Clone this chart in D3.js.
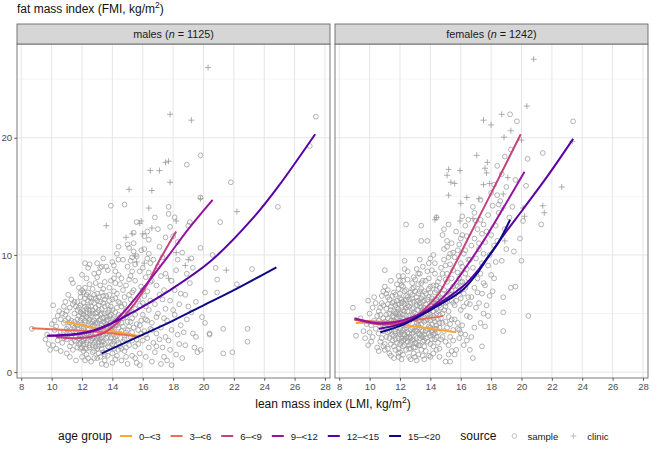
<!DOCTYPE html>
<html>
<head>
<meta charset="utf-8">
<script src="https://cdn.jsdelivr.net/npm/d3@7"></script>
<style>
body { margin: 0; background: #fff; }
text { font-family: "Liberation Sans", Arial, sans-serif; }
</style>
</head>
<body>
<svg width="652" height="449"></svg>
<script>
// age groups + colours (plasma, reversed)
const ageGroups = ["0–<3", "3–<6", "6–<9", "9–<12", "12–<15", "15–<20"];
const xTicks = [8, 10, 12, 14, 16, 18, 20, 22, 24, 26, 28];
const yTicks = [0, 10, 20];
const yMinor = [5, 15, 25];

// ---- males: sample (circles) ----
const malesSample = [
  [8.7,3.7],[9.7,3.2],[9.8,2.4],[10.1,5.7],[10.0,4.1],[10.3,2.0],[10.2,3.6],[10.4,4.8],[9.9,1.9],[10.4,2.7],[10.2,4.4],[10.5,3.1],[10.5,5.2],[10.3,3.9],[9.6,2.8],[10.1,2.3],
  [10.6,1.8],[10.7,2.5],[10.6,3.4],[10.8,4.2],[10.7,5.0],[10.9,6.0],[10.8,2.9],[11.0,3.7],[11.0,1.6],[11.1,4.6],[11.2,5.5],[11.3,7.9],[11.4,7.6],[11.2,2.2],[11.3,3.0],[11.4,4.0],[11.1,6.6],[11.5,5.0],[11.5,2.7],[11.4,3.5],[10.9,4.9],[11.3,6.2],[11.0,2.8],[11.2,3.3],[11.5,6.0],[10.8,5.6],[11.4,1.9],[11.1,3.9],[11.3,4.4],[11.5,4.3],[10.6,4.5],[11.0,5.2],[11.2,1.3],[10.9,3.0],[11.4,5.8],
  [11.6,1.0],[11.7,2.1],[11.8,3.2],[11.6,4.1],[11.7,5.3],[11.9,6.4],[11.8,7.2],[12.0,2.6],[12.1,3.7],[12.0,4.6],[12.2,5.6],[12.1,6.8],[12.3,1.5],[12.2,2.9],[12.4,4.0],[12.3,5.1],[12.4,6.1],[12.5,7.5],[12.0,8.3],[12.4,8.9],[12.2,9.3],[11.6,3.5],[11.8,2.4],[11.9,4.4],[12.0,5.0],[12.3,3.3],[12.5,2.3],[12.1,1.8],[12.4,2.7],[11.7,6.0],[11.9,3.0],[12.2,4.2],[12.5,5.3],[12.3,6.6],[11.8,4.8],[12.0,3.9],[12.1,2.4],[12.4,3.6],[11.6,2.6],[12.2,7.2],[12.5,4.5],[11.9,5.7],[12.3,4.7],[12.0,1.3],[12.5,3.0],[11.7,4.5],[12.1,5.9],[12.4,1.2],[11.8,5.5],[12.2,3.1],[12.3,2.0],[11.9,2.0],[12.5,6.4],[12.0,7.0],[12.1,4.9],[12.4,5.6],[11.7,3.7],[12.3,8.0],[12.5,9.2],[12.2,2.0],
  [12.6,0.9],[12.7,1.7],[12.8,2.5],[12.6,3.4],[12.9,4.2],[12.7,5.0],[12.8,5.9],[13.0,6.7],[12.9,7.6],[13.1,8.5],[13.0,9.3],[13.2,1.3],[13.1,2.2],[13.3,3.0],[13.2,3.8],[13.4,4.6],[13.3,5.4],[13.5,6.2],[13.4,7.1],[13.2,8.9],[13.4,9.7],[13.5,1.0],[13.3,0.7],[12.7,2.9],[12.9,3.3],[13.0,2.0],[13.1,4.4],[13.0,5.1],[12.6,6.3],[12.8,4.0],[13.2,6.0],[13.4,2.6],[13.5,3.5],[13.3,4.0],[12.9,5.5],[13.1,3.1],[13.5,5.0],[12.7,7.1],[13.0,3.6],[13.2,2.8],[13.4,1.7],[12.8,1.2],[13.3,6.8],[12.6,4.8],[13.1,5.7],[13.5,7.7],[13.0,8.1],[12.9,2.7],[13.2,4.9],[13.4,3.2],[12.8,3.6],[13.1,1.6],[13.3,2.3],[12.7,4.3],[13.0,4.7],[13.5,4.2],[12.9,6.3],[13.2,7.4],[12.6,5.6],[13.4,5.9],[13.1,6.4],[12.8,8.4],[13.3,9.0],[13.0,1.2],[12.7,3.9],
  [13.6,0.6],[13.7,1.4],[13.8,2.1],[13.6,2.9],[13.9,3.7],[13.7,4.5],[14.0,5.3],[13.8,6.1],[14.1,6.9],[13.9,7.8],[14.2,8.6],[14.0,9.4],[14.3,10.1],[13.9,14.2],[14.2,1.1],[14.4,1.9],[14.3,2.7],[14.1,3.5],[14.4,4.3],[14.2,5.1],[14.5,5.9],[14.3,6.7],[14.5,7.5],[14.4,8.3],[14.1,9.1],[13.6,3.3],[13.8,4.0],[13.7,5.7],[14.0,2.4],[14.2,3.0],[13.9,4.9],[14.4,3.8],[14.1,4.6],[13.6,6.5],[14.3,5.5],[14.0,6.2],[13.8,7.2],[14.5,2.2],[14.2,7.6],[14.4,9.6],[13.7,8.7],[14.0,3.9],[13.9,2.6],[14.3,4.0],[13.6,4.4],[14.1,2.0],[14.5,3.3],[13.8,5.3],[14.2,6.3],[14.4,6.0],[13.7,3.0],[14.0,1.6],[14.3,1.4],[14.5,4.7],[13.9,5.6],[14.1,8.0],[14.4,10.7],[13.6,9.0],[14.2,4.4],[14.0,0.8],
  [14.6,1.0],[14.8,1.8],[14.7,2.6],[14.9,3.4],[14.6,4.2],[15.0,5.0],[14.8,5.8],[15.1,6.6],[14.9,7.4],[15.2,8.2],[15.0,9.0],[15.3,9.8],[15.1,10.6],[15.0,10.9],[14.8,14.3],[15.4,11.9],[15.3,1.4],[15.5,2.2],[15.2,3.0],[15.4,3.8],[15.3,4.6],[15.5,5.4],[15.2,6.2],[15.4,7.0],[15.5,7.8],[15.3,8.6],[15.4,10.3],[14.7,3.9],[14.9,4.7],[15.1,2.3],[14.6,5.6],[15.0,3.6],[14.8,6.4],[15.2,4.3],[15.4,5.9],[14.7,7.0],[15.1,7.9],[15.5,9.2],[14.9,2.1],[15.3,2.7],[15.0,4.3],[14.6,8.0],[15.2,9.5],[15.5,1.2],[14.8,3.1],[15.1,5.3],[15.3,6.8],[14.7,9.6],[15.0,0.7],[15.4,11.0],
  [15.6,0.8],[15.8,1.6],[15.7,2.4],[15.9,3.3],[15.6,4.1],[16.0,4.9],[15.8,5.7],[16.1,6.5],[15.9,7.3],[16.2,8.1],[16.0,8.9],[16.3,9.7],[16.1,10.5],[16.4,11.3],[15.6,12.8],[16.2,1.3],[16.4,2.1],[16.3,2.9],[16.5,3.7],[16.2,4.5],[16.4,5.3],[16.5,6.1],[16.3,6.9],[16.5,7.7],[16.4,8.5],[15.7,6.2],[15.9,4.4],[16.0,2.7],[15.8,8.6],[16.1,3.5],[15.6,9.9],[16.3,12.0],[15.9,10.4],[16.2,5.6],[16.0,7.0],[15.7,3.6],[16.5,9.3],[15.8,0.6],[16.4,10.1],[16.1,11.6],
  [16.6,0.9],[16.8,1.7],[16.7,2.5],[16.9,3.3],[16.6,4.2],[17.0,5.0],[16.8,5.8],[17.1,6.6],[16.9,7.4],[17.2,8.2],[17.0,9.0],[17.3,9.8],[16.8,13.2],[17.1,10.7],[17.4,1.3],[17.3,2.1],[17.5,3.0],[17.2,3.8],[17.4,4.6],[17.5,5.4],[17.3,6.2],[17.4,7.0],[17.5,11.5],[16.7,9.6],[17.0,12.2],[16.9,4.7],[17.2,0.7],[17.5,8.4],[16.6,7.8],[17.1,2.8],
  [17.6,1.0],[17.8,1.9],[17.7,2.7],[17.9,3.6],[17.6,4.4],[18.0,5.3],[17.8,6.1],[18.1,7.0],[17.9,7.8],[18.2,8.7],[18.0,11.6],[18.3,11.1],[17.8,12.4],[18.2,1.5],[18.4,2.4],[18.3,3.2],[18.5,4.0],[18.1,4.9],[18.4,5.8],[18.5,6.7],[18.3,9.6],[17.9,0.6],[17.7,14.1],[18.1,13.2],[17.7,13.5],
  [18.6,1.2],[18.8,2.3],[18.7,3.4],[18.9,4.5],[19.0,5.6],[18.8,6.6],[19.1,7.6],[18.9,8.4],[19.2,9.7],[19.0,12.5],[19.1,12.8],[19.3,8.9],[19.4,2.1],[19.3,3.3],[19.5,6.0],[19.2,5.1],[18.6,10.2],[18.9,17.7],
  [19.6,1.7],[19.8,1.9],[19.9,4.7],[20.1,4.2],[19.8,14.9],[19.8,18.5],[20.4,3.2],[20.1,6.8],[20.9,6.8],[20.8,8.9],[20.9,7.9],[20.6,10.0],[19.8,10.6],[21.1,12.8],[19.5,3.0],
  [21.3,1.6],[21.9,1.7],[22.9,2.6],[21.3,3.7],[22.9,3.7],[22.2,7.5],[23.2,8.8],[21.8,16.2],[24.9,14.1],[27.0,19.3],[27.4,21.8],[20.4,3.3],
  // dense core
  [11.8,2.9],[12.0,3.2],[12.2,3.5],[12.4,3.3],[12.6,3.1],[12.8,3.0],[13.0,2.9],[13.2,3.4],[13.4,3.7],[12.1,2.7],[12.3,2.5],[12.5,2.1],[12.7,2.3],[12.9,2.2],[13.1,2.6],[13.3,2.0],[13.5,2.4],[13.7,2.2],[13.9,2.9],[14.1,2.6],[14.3,3.1],[14.0,3.5],[13.8,3.4],[13.6,3.9],[12.0,4.1],[12.2,4.4],[12.4,4.6],[12.6,4.1],[12.8,4.4],[13.0,4.2],[13.2,4.5],[13.4,4.3],[13.6,4.7],[13.8,4.8],[14.0,4.5],[14.2,4.0],[12.1,5.2],[12.3,5.4],[12.5,5.0],[12.7,5.3],[12.9,5.0],[13.1,5.3],[13.3,5.0],[13.5,5.6],[13.7,5.1],[11.9,5.1],[11.7,4.0],[11.6,3.0],[11.9,2.5],[12.0,2.1],[12.6,2.7],[13.3,2.6],[13.9,4.2],[14.4,4.9],[14.6,3.5],[14.8,2.8],[14.7,4.6],[14.9,5.3],[15.1,3.9],[15.3,3.4],[12.2,6.3],[12.6,6.0],[13.0,6.1],[13.4,6.5],[13.8,6.6],[12.4,6.8],[12.8,6.6],[11.9,6.8],[11.5,3.8],[11.2,4.2],[11.0,3.3],[11.3,2.5],[10.8,3.4],[10.9,4.4],[11.6,5.6],[14.1,3.2],[14.4,2.5],[14.6,2.0],[13.5,1.5],[12.8,1.8],[12.2,1.0],[14.9,1.3],[15.6,2.8],[15.8,4.0],[16.2,3.2],[15.5,4.9],[16.0,5.9],[16.6,3.6],[16.9,2.2],[16.3,4.4]
];
// ---- males: clinic (crosses) ----
const malesClinic = [
  [20.3,26.0],[17.8,22.0],[19.2,21.5],[16.5,17.2],[17.1,17.2],[17.5,17.9],[17.7,18.0],[17.8,16.2],[15.1,15.6],[16.6,15.5],
  [16.4,14.0],[19.8,14.8],[13.6,12.5],[15.8,12.7],[15.9,12.9],[16.6,12.3],[14.9,11.5],[15.3,11.8],[16.0,11.8],[18.2,12.9],
  [22.2,13.7],[15.5,9.9],[15.6,9.4],[16.1,9.3],[19.0,9.6],[18.8,9.1],[21.5,8.7],[17.7,8.0],[18.2,10.2]
];

// ---- females: sample (circles) ----
const femalesSample = [
  [8.9,5.5],[9.1,3.1],[9.6,3.5],[9.9,2.3],[10.2,3.0],[9.4,4.6],[9.8,4.1],[10.0,5.0],[10.3,4.4],[10.1,2.6],[10.4,3.7],[10.5,2.1],[10.2,5.5],[9.7,2.9],[10.4,5.9],[10.0,3.4],[10.3,6.4],[10.5,4.8],[9.9,6.1],[10.1,4.0],
  [10.6,1.8],[10.7,2.6],[10.6,3.3],[10.8,4.1],[10.7,4.9],[10.9,5.7],[10.8,6.5],[11.0,7.3],[11.0,8.7],[10.9,2.2],[11.1,3.0],[11.0,3.8],[11.2,4.6],[11.1,5.4],[11.3,6.2],[11.2,7.0],[11.4,7.8],[11.3,1.6],[11.4,2.4],[11.5,3.2],[11.3,4.0],[11.5,4.8],[11.4,5.6],[11.5,6.5],[10.6,5.2],[10.8,2.9],[11.0,4.3],[11.2,2.0],[11.4,3.6],[10.9,3.5],[11.1,6.7],[11.3,5.0],[10.7,3.9],[11.5,2.7],[11.2,3.4],[10.8,5.9],[11.0,2.4],[11.4,4.4],[11.1,4.9],[10.6,4.4],[11.3,2.9],[11.5,5.9],[10.9,6.9],[11.2,5.8],[11.0,1.9],
  [11.6,1.2],[11.7,1.9],[11.9,1.3],[11.8,2.5],[11.6,3.1],[12.0,3.7],[11.7,4.3],[11.9,4.9],[12.1,5.5],[11.8,6.1],[12.0,6.7],[12.2,7.3],[12.1,7.4],[11.9,8.2],[12.3,8.8],[12.4,12.6],[12.2,2.2],[12.3,2.8],[12.1,3.4],[12.4,4.0],[12.2,4.6],[12.5,5.2],[12.3,5.8],[12.5,6.4],[12.4,7.0],[12.5,7.9],[12.3,9.5],[11.6,5.2],[11.8,3.8],[12.0,2.4],[12.2,1.5],[12.4,1.9],[11.7,2.8],[11.9,3.4],[12.1,4.1],[12.3,4.3],[12.5,3.4],[11.6,4.7],[11.8,5.5],[12.0,5.0],[12.2,6.0],[12.4,5.5],[11.7,6.6],[11.9,7.1],[12.1,6.2],[12.3,6.9],[12.5,2.6],[11.6,2.2],[12.0,1.7],[12.4,3.0],[11.8,4.6],[12.2,3.2],[12.0,4.4],[11.7,3.5],[12.5,4.5],[12.1,2.9],[11.9,5.8],[12.3,3.7],[12.2,5.3],[11.6,6.0],[12.4,6.2],[12.0,7.8],[11.8,7.5],[12.5,8.6],[12.2,8.2],[11.9,2.0],[12.3,2.3],[12.1,1.1],[12.4,4.8],[11.7,5.0],
  [12.6,1.3],[12.7,2.0],[12.9,1.6],[12.8,2.7],[12.6,3.3],[13.0,3.9],[12.7,4.5],[12.9,5.1],[13.1,5.7],[12.8,6.3],[13.0,6.9],[13.2,7.5],[12.9,8.1],[13.1,8.8],[13.3,9.6],[13.4,11.2],[13.4,12.5],[13.2,2.3],[13.3,2.9],[13.1,3.5],[13.4,4.1],[13.2,4.7],[13.5,5.3],[13.3,5.9],[13.5,6.5],[13.4,7.1],[13.5,7.8],[13.3,8.4],[12.6,5.6],[12.8,3.8],[13.0,2.5],[13.2,1.5],[13.4,1.9],[12.7,2.9],[12.9,3.4],[13.1,4.2],[13.3,4.4],[13.5,3.5],[12.6,4.8],[12.8,5.4],[13.0,5.0],[13.2,6.1],[13.4,5.5],[12.7,6.8],[12.9,7.2],[13.1,6.4],[13.3,6.9],[13.5,2.6],[12.6,2.3],[13.0,1.3],[13.4,3.1],[12.8,4.6],[13.2,3.3],[13.0,4.5],[12.7,3.6],[13.5,4.6],[13.1,2.9],[12.9,6.0],[13.3,3.8],[13.2,5.3],[12.6,6.2],[13.4,6.3],[13.0,7.9],[12.8,7.6],[13.5,9.0],[13.2,8.4],[12.9,2.1],[13.3,2.3],[13.1,1.0],[13.4,4.8],
  [13.6,1.1],[13.7,1.8],[13.9,1.4],[13.8,2.6],[13.6,3.2],[14.0,3.8],[13.7,4.4],[13.9,5.0],[14.1,5.6],[13.8,6.2],[14.0,6.8],[14.2,7.4],[13.9,8.0],[14.1,8.7],[14.3,9.3],[14.2,10.0],[13.8,11.2],[14.4,13.2],[14.2,2.2],[14.3,2.8],[14.1,3.4],[14.4,4.0],[14.2,4.6],[14.5,5.2],[14.3,5.8],[14.5,6.4],[14.4,7.0],[14.5,7.7],[14.3,8.4],[13.6,5.5],[13.8,3.7],[14.0,2.4],[14.2,1.6],[14.4,1.9],[13.7,2.9],[13.9,3.3],[14.1,4.1],[14.3,4.3],[14.5,3.4],[13.6,4.7],[13.8,5.3],[14.0,4.9],[14.2,6.0],[14.4,5.4],[13.7,6.7],[13.9,7.1],[14.1,6.3],[14.3,6.8],[14.5,2.5],[13.6,2.2],[14.0,1.3],[14.4,3.0],[13.8,4.5],[14.2,3.2],[14.0,4.4],[13.7,7.8],[14.5,4.5],[14.1,2.8],[13.9,9.3],[14.3,3.7],[14.2,5.2],[13.6,6.1],[14.4,6.2],[14.0,9.7],[14.6,1.3],
  [14.6,2.0],[14.7,2.8],[14.9,3.5],[14.8,4.2],[14.6,4.9],[15.0,5.6],[14.7,6.3],[14.9,7.0],[15.1,7.7],[14.8,8.4],[15.0,9.1],[15.2,9.8],[14.9,10.5],[15.1,11.2],[15.0,0.9],[15.3,0.9],[15.2,2.3],[15.3,3.0],[15.1,3.8],[15.4,4.5],[15.2,5.2],[15.5,5.9],[15.3,6.6],[15.5,7.3],[15.4,8.0],[15.5,8.7],[15.3,10.1],[14.6,5.7],[14.8,3.0],[15.0,2.6],[15.2,1.5],[15.4,1.8],[14.7,4.6],[14.9,5.3],[15.1,6.0],[15.3,4.1],[15.5,3.6],[14.6,7.2],[14.8,6.7],[15.0,4.3],[15.2,6.9],[15.4,6.1],[14.7,8.9],[14.9,9.6],[15.1,8.4],[15.3,9.2],[15.5,2.7],[14.6,3.8],[15.0,7.9],[15.4,11.0],[14.8,11.7],[15.2,12.6],[14.9,12.2],[15.1,10.7],[15.5,10.2],
  [15.6,1.5],[15.7,1.9],[15.9,2.9],[15.8,3.7],[15.6,4.5],[16.0,5.3],[15.7,6.1],[15.9,6.9],[16.1,7.7],[15.8,8.5],[16.0,9.3],[16.2,10.1],[15.9,10.9],[16.1,11.7],[16.3,12.5],[16.2,2.3],[16.3,3.2],[16.1,4.0],[16.4,4.8],[16.2,5.6],[16.5,6.4],[16.3,7.2],[16.5,8.0],[16.4,8.8],[16.5,9.6],[16.3,10.4],[16.4,11.6],[15.6,5.7],[15.8,4.2],[16.0,3.3],[16.2,6.7],[16.4,5.9],[15.7,7.4],[15.9,8.0],[16.1,9.0],[16.3,8.4],[15.6,9.8],[15.8,10.4],[16.0,11.4],[16.5,13.0],[15.7,12.0],[16.1,13.3],[15.9,3.6],[16.4,2.7],[16.0,6.3],
  [16.6,1.9],[16.8,1.2],[16.7,3.0],[16.9,3.8],[16.6,4.7],[17.0,5.5],[16.7,6.4],[16.9,7.2],[17.1,8.0],[16.8,8.9],[17.0,9.7],[17.2,10.5],[16.9,11.4],[17.1,12.2],[17.3,13.0],[16.8,14.1],[17.4,2.2],[17.3,4.2],[17.5,5.0],[17.2,5.9],[17.4,6.7],[17.5,7.6],[17.3,8.4],[17.4,9.3],[17.5,10.1],[17.2,11.0],[17.4,11.8],[16.6,9.6],[16.7,10.8],[17.0,12.9],[17.3,14.7],[16.9,13.6],[17.1,6.8],[16.6,5.8],[17.5,12.6],
  [17.6,3.9],[17.8,4.8],[17.7,5.7],[17.9,6.5],[17.6,7.4],[18.0,8.3],[17.8,9.1],[18.1,6.9],[17.9,10.0],[18.2,10.8],[18.0,11.7],[18.3,12.5],[17.8,13.4],[18.1,14.2],[18.4,15.1],[18.2,16.0],[18.5,13.6],[18.3,9.4],[18.4,11.2],[17.7,12.0],[18.0,15.3],[18.4,17.6],[18.2,8.0],[17.6,11.1],[18.5,14.3],
  [18.8,3.5],[18.8,5.1],[18.8,6.4],[19.3,7.2],[19.6,7.3],[18.7,9.5],[19.0,10.5],[18.9,12.2],[19.2,13.2],[18.6,14.6],[19.0,15.8],[19.4,14.1],[18.7,16.9],[19.3,19.0],[19.25,22.0],[19.7,21.4],[20.45,4.8],[19.9,11.4],[20.0,9.5],[20.1,12.9],[20.3,15.9],[19.6,16.4],[20.4,18.2],[18.9,18.4],[19.5,10.3],
  [21.3,12.6],[21.4,18.7],[23.4,21.4],
  // dense core
  [11.6,3.9],[11.8,4.2],[12.0,3.2],[12.2,3.6],[12.4,3.8],[12.6,3.0],[12.8,3.3],[13.0,3.5],[13.2,4.0],[13.4,3.6],[11.7,3.3],[11.9,2.9],[12.1,2.6],[12.3,3.2],[12.5,2.9],[12.7,2.5],[12.9,2.8],[13.1,2.4],[13.3,3.2],[13.5,3.0],[13.7,3.5],[13.9,3.9],[14.1,3.6],[14.3,3.3],[11.6,4.4],[11.8,5.1],[12.0,4.7],[12.2,4.9],[12.4,4.4],[12.6,4.3],[12.8,4.9],[13.0,4.7],[13.2,4.4],[13.4,5.1],[13.6,4.3],[13.8,4.9],[14.0,5.4],[14.2,4.8],[14.4,5.0],[11.7,5.7],[11.9,5.4],[12.1,5.9],[12.3,5.2],[12.5,5.7],[12.7,5.9],[12.9,5.5],[13.1,6.0],[13.3,5.6],[13.5,6.0],[13.7,5.8],[13.9,6.4],[14.1,6.0],[14.3,6.2],[11.3,3.5],[11.1,4.1],[10.9,4.6],[11.4,5.3],[11.2,6.4],[10.7,5.5],[11.5,3.9],[12.2,2.7],[12.6,2.0],[13.0,2.1],[13.6,2.7],[14.0,3.1],[14.4,3.7],[14.6,4.2],[14.8,5.0],[15.0,5.9],[15.2,4.7],[14.7,5.5],[14.9,6.2],[15.1,6.5],[15.4,7.0],[15.6,6.6],[15.8,7.3],[16.0,7.7],[12.4,6.5],[12.8,6.6],[13.2,6.7],[13.6,6.9],[14.0,7.3],[14.4,7.4],[12.0,6.3],[11.6,6.8],[12.2,7.8],[12.8,7.1],[13.4,7.6],[13.8,8.6],[14.6,8.0],[11.4,1.4],[11.9,1.6],[12.7,1.1],[13.5,1.4]
];
// ---- females: clinic (crosses) ----
const femalesClinic = [
  [20.8,26.7],[20.35,22.7],[17.5,21.5],[18.0,21.1],[18.7,22.0],[19.3,20.6],[18.85,20.05],[20.0,19.8],[17.05,18.5],[17.75,17.9],
  [17.6,17.4],[17.7,17.0],[15.2,17.3],[15.95,17.2],[15.1,16.8],[15.35,16.2],[15.6,16.1],[17.5,16.0],[17.9,16.1],[19.1,16.6],
  [15.2,15.1],[22.65,15.8],[21.4,14.2],[21.5,13.6],[20.1,14.0],[20.2,13.3],[18.8,15.2],[16.4,14.9],[17.2,14.8],[16.0,14.4],
  [14.4,13.2],[14.3,13.0],[15.95,12.9],[16.8,13.1],[18.8,14.0],[18.9,11.2],[23.35,19.7]
];

// ---- fitted curves, one per age group (same order as ageGroups) ----
const malesCurves = [
  [[10.9,4.3],[13.0,3.75],[15.9,3.05]],
  [[8.7,3.75],[11.0,3.6],[13.0,3.45],[15.6,3.05]],
  [[10.3,3.0],[11.5,2.9],[12.5,3.0],[13.5,3.4],[14.5,4.4],[15.5,5.9],[16.3,7.5],[17.0,9.3],[18.2,12.0]],
  [[9.8,3.1],[11.5,3.2],[13.0,3.6],[14.0,4.2],[15.0,5.5],[16.0,7.1],[17.5,9.6],[19.0,12.2],[20.6,14.7]],
  [[9.7,3.1],[12.3,3.4],[14.0,4.2],[15.6,5.3],[17.8,7.0],[20.5,9.5],[23.3,13.2],[24.9,15.8],[27.35,20.3]],
  [[13.3,1.6],[16.0,3.2],[18.0,4.4],[20.0,5.7],[22.0,7.0],[24.8,8.95]]
];
const femalesCurves = [
  [[9.1,4.2],[11.5,4.15],[13.5,3.8],[15.7,3.4]],
  [[9.0,4.45],[11.0,4.3],[13.0,4.45],[14.85,4.8]],
  [[9.0,4.5],[10.5,4.1],[12.0,4.2],[13.0,4.7],[13.8,5.6],[14.6,6.8],[15.5,8.9],[16.6,11.7],[17.9,15.0],[19.95,20.3]],
  [[9.0,4.6],[10.4,4.2],[11.8,4.3],[13.5,5.1],[14.85,6.4],[16.2,8.7],[17.5,11.2],[18.8,14.0],[20.2,17.1]],
  [[10.6,3.7],[12.3,4.2],[14.0,5.4],[15.2,6.4],[16.3,7.5],[17.2,8.8],[18.0,10.2],[19.0,12.0],[20.1,13.9],[21.7,16.7],[23.4,19.9]],
  [[10.7,3.4],[12.3,4.1],[14.0,5.3],[15.2,6.2],[16.2,7.1],[17.0,8.3],[17.8,9.8],[18.5,11.1],[19.25,13.0]]
];

const svg = d3.select("svg");
const width = +svg.attr("width");
const height = +svg.attr("height");

const color = d3.scaleOrdinal()
  .domain(ageGroups)
  .range([0.8, 0.64, 0.48, 0.32, 0.16, 0].map(t => d3.interpolatePlasma(t)));

const pointGrey = "#999999";
const panelTop = 44, panelBottom = 378, panelW = 313;
const stripTop = 24;

const y = d3.scaleLinear().domain([-0.5, 28]).range([panelBottom, panelTop]);

const panels = [
  { label: "males", n: 1125, left: 17, sample: malesSample, clinic: malesClinic, curves: malesCurves },
  { label: "females", n: 1242, left: 335, sample: femalesSample, clinic: femalesClinic, curves: femalesCurves }
];

panels.forEach((p, i) => {
  const x = d3.scaleLinear().domain([7.72, 28.33]).range([p.left, p.left + panelW]);
  const g = svg.append("g").attr("class", "panel");

  // grid
  g.selectAll(".yminor").data(yMinor).enter().append("line")
    .attr("x1", p.left).attr("x2", p.left + panelW)
    .attr("y1", d => y(d)).attr("y2", d => y(d))
    .attr("stroke", "#ececec").attr("stroke-width", 0.6);
  g.selectAll(".ymajor").data(yTicks).enter().append("line")
    .attr("x1", p.left).attr("x2", p.left + panelW)
    .attr("y1", d => y(d)).attr("y2", d => y(d))
    .attr("stroke", "#e6e6e6").attr("stroke-width", 1);
  g.selectAll(".xmajor").data(xTicks).enter().append("line")
    .attr("y1", panelTop).attr("y2", panelBottom)
    .attr("x1", d => x(d)).attr("x2", d => x(d))
    .attr("stroke", "#e6e6e6").attr("stroke-width", 1);

  // sample points
  g.selectAll(".pt").data(p.sample).enter().append("circle")
    .attr("cx", d => x(d[0])).attr("cy", d => y(d[1]))
    .attr("r", 2.4)
    .attr("fill", "none").attr("stroke", pointGrey).attr("stroke-width", 0.75);

  // clinic crosses
  g.selectAll(".cross").data(p.clinic).enter().append("path")
    .attr("transform", d => "translate(" + x(d[0]) + "," + y(d[1]) + ")")
    .attr("d", "M-3,0H3M0,-3V3")
    .attr("stroke", pointGrey).attr("stroke-width", 0.8);

  // curves
  const line = d3.line().x(d => x(d[0])).y(d => y(d[1])).curve(d3.curveCatmullRom.alpha(0.5));
  g.selectAll(".curve").data(p.curves).enter().append("path")
    .attr("d", d => line(d))
    .attr("fill", "none")
    .attr("stroke", (d, k) => color(ageGroups[k]))
    .attr("stroke-width", 2)
    .attr("stroke-linecap", "butt");

  // border
  g.append("rect")
    .attr("x", p.left).attr("y", panelTop)
    .attr("width", panelW).attr("height", panelBottom - panelTop)
    .attr("fill", "none").attr("stroke", "#5a5a5a").attr("stroke-width", 0.8);

  // strip
  g.append("rect")
    .attr("x", p.left).attr("y", stripTop)
    .attr("width", panelW).attr("height", panelTop - stripTop)
    .attr("fill", "#d6d6d6").attr("stroke", "#5a5a5a").attr("stroke-width", 0.8);
  const st = g.append("text")
    .attr("x", p.left + panelW / 2).attr("y", (stripTop + panelTop) / 2)
    .attr("dy", "0.35em")
    .attr("text-anchor", "middle")
    .attr("font-size", 10.8).attr("fill", "#1a1a1a");
  st.append("tspan").text(p.label + " (");
  st.append("tspan").attr("font-style", "italic").text("n");
  st.append("tspan").text(" = " + p.n + ")");

  // x axis
  const xa = g.append("g")
    .attr("transform", "translate(0," + panelBottom + ")")
    .call(d3.axisBottom(x).tickValues(xTicks).tickSize(2.75).tickPadding(2.5));
  xa.select(".domain").remove();
  xa.selectAll("line").attr("stroke", "#5a5a5a");
  xa.selectAll("text").attr("font-size", 9.6).attr("fill", "#4d4d4d")
    .attr("font-family", "Liberation Sans, Arial, sans-serif");

  if (i === 0) {
    const ya = g.append("g")
      .attr("transform", "translate(" + p.left + ",0)")
      .call(d3.axisLeft(y).tickValues(yTicks).tickSize(2.75).tickPadding(2.2));
    ya.select(".domain").remove();
    ya.selectAll("line").attr("stroke", "#5a5a5a");
    ya.selectAll("text").attr("font-size", 9.6).attr("fill", "#4d4d4d")
      .attr("font-family", "Liberation Sans, Arial, sans-serif");
  }
});

// axis titles
const yt = svg.append("text").attr("x", 17).attr("y", 13).attr("font-size", 12).attr("fill", "#111");
yt.append("tspan").text("fat mass index (FMI, kg/m");
yt.append("tspan").attr("font-size", 8.5).attr("dy", -5).text("2");
yt.append("tspan").attr("dy", 5).text(")");

const xt = svg.append("text").attr("x", 333).attr("y", 408).attr("text-anchor", "middle")
  .attr("font-size", 12).attr("fill", "#111");
xt.append("tspan").text("lean mass index (LMI, kg/m");
xt.append("tspan").attr("font-size", 8.5).attr("dy", -5).text("2");
xt.append("tspan").attr("dy", 5).text(")");

// legend
const legY = 436;
const leg = svg.append("g").attr("class", "legend");
leg.append("text").attr("x", 58).attr("y", legY + 4).attr("font-size", 12).attr("fill", "#111").text("age group");

let cx = 120;
ageGroups.forEach(a => {
  leg.append("line")
    .attr("x1", cx).attr("x2", cx + 12)
    .attr("y1", legY).attr("y2", legY)
    .attr("stroke", color(a)).attr("stroke-width", 2);
  const t = leg.append("text").attr("x", cx + 19).attr("y", legY + 3.5)
    .attr("font-size", 9.6).attr("fill", "#1a1a1a").text(a);
  cx = cx + 19 + t.node().getComputedTextLength() + 10;
});

cx += 10;
const srcTitle = leg.append("text").attr("x", cx).attr("y", legY + 4).attr("font-size", 12).attr("fill", "#111").text("source");
cx += srcTitle.node().getComputedTextLength() + 18;
leg.append("circle").attr("cx", cx).attr("cy", legY)
  .attr("r", 2.3).attr("fill", "none").attr("stroke", "#b0b0b0").attr("stroke-width", 0.75);
const s1 = leg.append("text").attr("x", cx + 13).attr("y", legY + 3.5).attr("font-size", 9.6).attr("fill", "#1a1a1a").text("sample");
cx = cx + 13 + s1.node().getComputedTextLength() + 15;
leg.append("path").attr("transform", "translate(" + cx + "," + legY + ")")
  .attr("d", "M-3,0H3M0,-3V3").attr("stroke", "#b0b0b0").attr("stroke-width", 0.8);
leg.append("text").attr("x", cx + 14).attr("y", legY + 3.5).attr("font-size", 9.6).attr("fill", "#1a1a1a").text("clinic");
</script>
</body>
</html>
